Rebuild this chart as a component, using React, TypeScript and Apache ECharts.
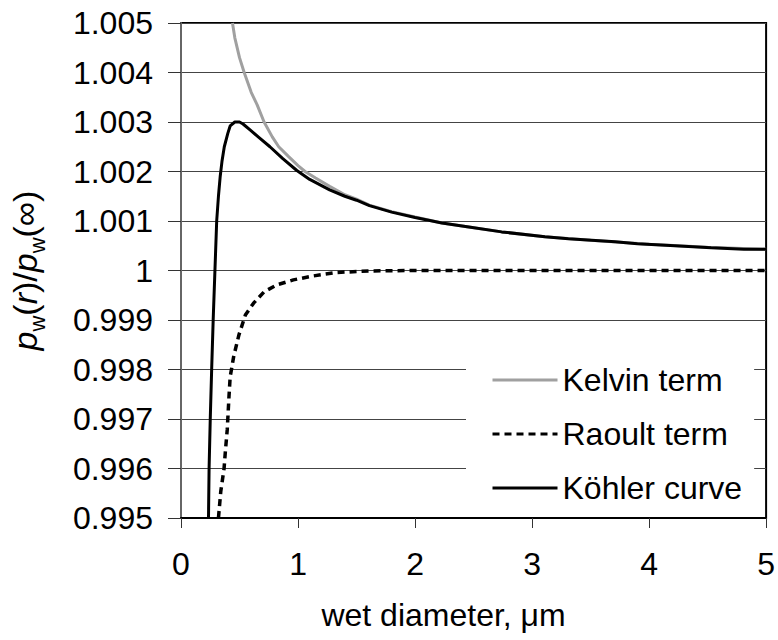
import React, { useEffect, useRef } from "react";
import * as echarts from "echarts";

const FONT = "'Liberation Sans', Arial, sans-serif";

const kelvinD = [0.44, 0.46, 0.5, 0.54, 0.6, 0.65, 0.71, 0.78, 0.835, 0.92, 1.0, 1.06, 1.15, 1.27, 1.4, 1.5, 1.61, 1.8, 2.0, 2.23, 2.46, 2.74, 3.11, 3.5, 4.0, 4.5, 5.0];
const kelvinP = [1.005, 1.0047, 1.0043, 1.004, 1.0036, 1.00335, 1.003, 1.0027, 1.0025, 1.0023, 1.00212, 1.002, 1.00187, 1.0017, 1.00153, 1.00144, 1.00132, 1.00119, 1.00108, 1.00096, 1.00088, 1.00078, 1.00068, 1.00061, 1.00053, 1.00047, 1.00043];

const raoultD = [0.32, 0.34, 0.368, 0.38, 0.395, 0.41, 0.42, 0.45, 0.495, 0.55, 0.62, 0.71, 0.82, 0.96, 1.13, 1.33, 1.61, 2.0, 3.0, 4.0, 5.0];
const raoultP = [0.995, 0.99554, 0.996, 0.99637, 0.99678, 0.99745, 0.99785, 0.99826, 0.9987, 0.9991, 0.99934, 0.99957, 0.99971, 0.99981, 0.99989, 0.99996, 0.99999, 1.0, 1.0, 1.0, 1.0];

const kohlerD = [0.235, 0.24, 0.25, 0.262, 0.275, 0.29, 0.305, 0.32, 0.335, 0.35, 0.37, 0.4, 0.42, 0.46, 0.5, 0.53, 0.59, 0.67, 0.76, 0.87, 0.99, 1.1, 1.27, 1.4, 1.5, 1.61, 1.8, 2.0, 2.23, 2.46, 2.74, 3.11, 3.31, 3.71, 3.9, 4.22, 4.53, 4.81, 5.0];
const kohlerP = [0.995, 0.996, 0.997, 0.998, 0.999, 1.0, 1.001, 1.0015, 1.0019, 1.0022, 1.0025, 1.00277, 1.00292, 1.003, 1.003, 1.00296, 1.00284, 1.00268, 1.0025, 1.00226, 1.00202, 1.00184, 1.00163, 1.0015, 1.00142, 1.00131, 1.00118, 1.00107, 1.00096, 1.00088, 1.00078, 1.00068, 1.00064, 1.00058, 1.00054, 1.0005, 1.00046, 1.00043, 1.00043];

const seriesNames = ["Kelvin term", "Raoult term", "Köhler curve"];
const xAxisTitle = "wet diameter, μm";

const zip = (a: number[], b: number[]) => a.map((v, i) => [v, b[i]]);

export default function App() {
  const ref = useRef<HTMLDivElement>(null);
  useEffect(() => {
    const chart = echarts.init(ref.current!, undefined, { renderer: "svg" });
    chart.setOption({
      animation: false,
      backgroundColor: "#fff",
      textStyle: { fontFamily: FONT },
      grid: {
        left: 180,
        right: 9,
        top: 23,
        bottom: 122,
        show: true,
        borderColor: "#000",
        borderWidth: 2,
        backgroundColor: "transparent",
      },
      legend: {
        orient: "vertical",
        left: 466,
        top: 345,
        padding: [17, 12, 8, 25],
        backgroundColor: "#fff",
        itemWidth: 65,
        itemHeight: 4,
        itemGap: 18,
        itemStyle: { opacity: 0 },
        lineStyle: { width: 3 },
        textStyle: { fontSize: 32, fontFamily: FONT, color: "#000", lineHeight: 36 },
        data: seriesNames,
      },
      xAxis: {
        type: "value",
        min: 0,
        max: 5,
        interval: 1,
        name: xAxisTitle,
        nameLocation: "middle",
        nameGap: 81,
        nameTextStyle: { fontSize: 32, fontFamily: FONT, color: "#000", padding: [0, 60, 0, 0] },
        axisLine: { show: true, lineStyle: { color: "#000", width: 2 } },
        axisTick: { show: true, length: 10, lineStyle: { color: "#333", width: 1 } },
        axisLabel: { fontSize: 32, fontFamily: FONT, color: "#000", margin: 30 },
        splitLine: { show: false },
      },
      yAxis: {
        type: "value",
        min: 0.995,
        max: 1.005,
        interval: 0.001,
        name: "{i|p}{s|w}{n|(}{i|r}{n|)/}{i|p}{s|w}{n|(∞)}",
        nameLocation: "middle",
        nameGap: 133,
        nameRotate: 90,
        nameTextStyle: {
          fontFamily: FONT,
          color: "#000",
          rich: {
            i: { fontSize: 34, fontStyle: "italic", fontFamily: FONT, color: "#000", lineHeight: 46 },
            n: { fontSize: 34, fontFamily: FONT, color: "#000", lineHeight: 46 },
            s: { fontSize: 22, fontFamily: FONT, color: "#000", lineHeight: 22, verticalAlign: "bottom" },
          },
        },
        axisLine: { show: true, lineStyle: { color: "#666", width: 2 } },
        axisTick: { show: true, length: 13, lineStyle: { color: "#333", width: 1 } },
        axisLabel: {
          fontSize: 32,
          fontFamily: FONT,
          color: "#000",
          margin: 28,
          formatter: (v: number) => {
            const s = v.toFixed(3);
            return s === "1.000" ? "1" : s;
          },
        },
        splitLine: { show: true, lineStyle: { color: "#444", width: 1 } },
      },
      series: [
        {
          name: seriesNames[0],
          type: "line",
          data: zip(kelvinD, kelvinP),
          symbol: "none",
          clip: true,
          lineStyle: { color: "#a0a0a0", width: 3 },
          itemStyle: { color: "#a0a0a0" },
          z: 2,
        },
        {
          name: seriesNames[1],
          type: "line",
          data: zip(raoultD, raoultP),
          symbol: "none",
          clip: true,
          lineStyle: { color: "#000", width: 3.5, type: [7, 5] },
          itemStyle: { color: "#000" },
          z: 3,
        },
        {
          name: seriesNames[2],
          type: "line",
          data: zip(kohlerD, kohlerP),
          symbol: "none",
          clip: true,
          lineStyle: { color: "#000", width: 3 },
          itemStyle: { color: "#000" },
          z: 4,
        },
      ],
    });
    return () => chart.dispose();
  }, []);
  return (
    <div
      ref={ref}
      style={{ position: "fixed", left: 0, top: 0, width: 778, height: 640 }}
    />
  );
}
